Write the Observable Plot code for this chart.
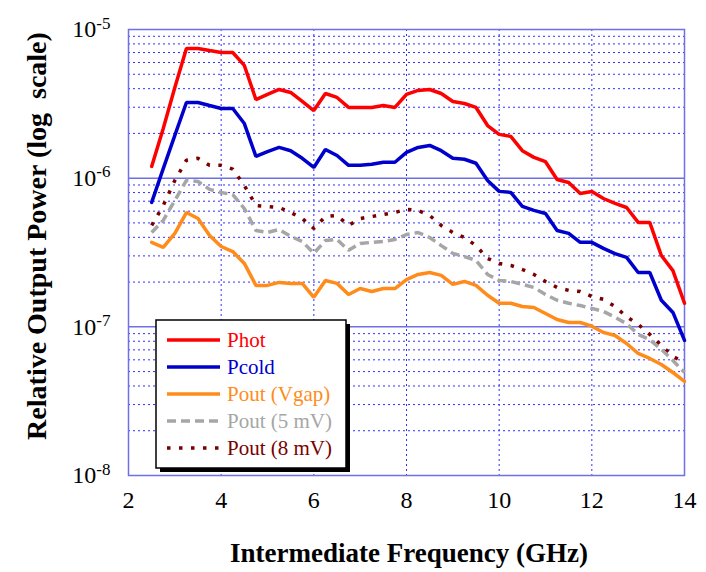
<!DOCTYPE html>
<html><head><meta charset="utf-8">
<script src="https://cdn.jsdelivr.net/npm/d3@7"></script>
<script src="https://cdn.jsdelivr.net/npm/@observablehq/plot@0.6"></script>
<style>
body{margin:0;background:#fff;}
#wrap{position:relative;width:706px;height:572px;font-family:"Liberation Serif",serif;}
#legend{position:absolute;left:150px;top:315px;}
</style></head><body><div id="wrap"></div>
<script>
const freq = [2.5,2.75,3,3.25,3.5,3.75,4,4.25,4.5,4.75,5,5.25,5.5,5.75,6,6.25,6.5,6.75,7,7.25,7.5,7.75,8,8.25,8.5,8.75,9,9.25,9.5,9.75,10,10.25,10.5,10.75,11,11.25,11.5,11.75,12,12.25,12.5,12.75,13,13.25,13.5,13.75,14];
const phot = [1.20e-6,2.16e-6,4.07e-6,7.45e-6,7.45e-6,7.22e-6,7.0e-6,7.0e-6,5.73e-6,3.38e-6,3.66e-6,3.95e-6,3.77e-6,3.28e-6,2.85e-6,3.71e-6,3.49e-6,2.99e-6,2.99e-6,2.99e-6,3.08e-6,2.99e-6,3.66e-6,3.89e-6,3.95e-6,3.71e-6,3.28e-6,3.18e-6,2.99e-6,2.26e-6,1.97e-6,1.91e-6,1.53e-6,1.38e-6,1.29e-6,9.8e-7,9.35e-7,7.89e-7,8.14e-7,7.3e-7,6.76e-7,6.35e-7,5.04e-7,5.04e-7,3.02e-7,2.39e-7,1.44e-7];
const pcold = [6.87e-7,1.16e-6,1.94e-6,3.23e-6,3.23e-6,3.08e-6,2.94e-6,2.94e-6,2.33e-6,1.40e-6,1.51e-6,1.61e-6,1.53e-6,1.36e-6,1.18e-6,1.56e-6,1.42e-6,1.22e-6,1.22e-6,1.24e-6,1.28e-6,1.28e-6,1.49e-6,1.61e-6,1.66e-6,1.53e-6,1.36e-6,1.34e-6,1.26e-6,9.66e-7,8.15e-7,8.02e-7,6.46e-7,6.07e-7,5.79e-7,4.45e-7,4.25e-7,3.70e-7,3.70e-7,3.37e-7,3.11e-7,2.93e-7,2.32e-7,2.32e-7,1.51e-7,1.25e-7,8.1e-8];
const poutVgap = [3.70e-7,3.42e-7,4.25e-7,5.87e-7,5.35e-7,4.12e-7,3.47e-7,3.21e-7,2.67e-7,1.90e-7,1.90e-7,1.99e-7,1.96e-7,1.96e-7,1.58e-7,2.05e-7,1.96e-7,1.65e-7,1.81e-7,1.73e-7,1.81e-7,1.81e-7,2.08e-7,2.25e-7,2.32e-7,2.22e-7,1.93e-7,2.02e-7,1.90e-7,1.63e-7,1.44e-7,1.44e-7,1.37e-7,1.35e-7,1.23e-7,1.12e-7,1.07e-7,1.07e-7,1.01e-7,9.17e-8,8.75e-8,7.73e-8,6.62e-8,6.13e-8,5.58e-8,4.93e-8,4.29e-8];
const pout5mV = [4.31e-7,5.20e-7,7.08e-7,9.66e-7,9.5e-7,8.4e-7,8.0e-7,7.76e-7,6.25e-7,4.45e-7,4.31e-7,4.52e-7,4.06e-7,3.75e-7,3.12e-7,3.81e-7,3.87e-7,3.27e-7,3.64e-7,3.70e-7,3.75e-7,3.87e-7,4.18e-7,4.31e-7,3.99e-7,3.52e-7,3.12e-7,2.97e-7,2.80e-7,2.25e-7,2.05e-7,2.02e-7,1.93e-7,1.84e-7,1.65e-7,1.51e-7,1.44e-7,1.39e-7,1.33e-7,1.27e-7,1.16e-7,1.05e-7,8.9e-8,8.2e-8,7.05e-8,5.94e-8,4.93e-8];
const pout8mV = [4.81e-7,6.55e-7,9.66e-7,1.32e-6,1.36e-6,1.22e-6,1.22e-6,1.15e-6,8.94e-7,6.55e-7,6.45e-7,6.35e-7,5.88e-7,5.35e-7,4.59e-7,5.52e-7,5.61e-7,4.81e-7,5.35e-7,5.52e-7,5.70e-7,5.88e-7,6.17e-7,6.07e-7,5.61e-7,4.81e-7,4.31e-7,3.99e-7,3.52e-7,2.88e-7,2.67e-7,2.59e-7,2.43e-7,2.25e-7,2.02e-7,1.84e-7,1.76e-7,1.73e-7,1.60e-7,1.53e-7,1.37e-7,1.17e-7,1.04e-7,8.9e-8,7.5e-8,6.32e-8,5.77e-8];

const seriesNames = ["Phot","Pcold","Pout (Vgap)","Pout (5 mV)","Pout (8 mV)"];
const seriesValues = [phot, pcold, poutVgap, pout5mV, pout8mV];
const seriesColors = ["#ff0000","#0000cc","#ff8c1a","#a6a6a6","#7a0000"];
const seriesDash = [null, null, null, "9,5", "3.5,8.5"];

const xTicks = [2,4,6,8,10,12,14];
const xGrid = [4,6,8,10,12];
const yTicks = [1e-8,1e-7,1e-6,1e-5];
const decadeLines = [1e-7,1e-6];
const minorY = [];
for (const d of [1e-8,1e-7,1e-6]) for (let k = 2; k <= 9; k++) minorY.push(k*d);

const series = seriesNames.map((name,i) => ({
  name, color: seriesColors[i], dash: seriesDash[i],
  rows: freq.map((f,j) => ({f, v: seriesValues[i][j]}))
}));

const lineMarks = [4,3,2,1,0].map(i => {
  const s = series[i];
  const opts = {x:"f", y:"v", stroke:s.color, strokeWidth:3.5, strokeLinejoin:"miter"};
  if (s.dash) { opts.strokeDasharray = s.dash; opts.strokeLinecap = "butt"; }
  return Plot.line(s.rows, opts);
});

const chart = Plot.plot({
  width:706, height:572,
  marginLeft:128, marginRight:22, marginTop:29, marginBottom:97,
  x:{domain:[2,14]},
  y:{type:"log", domain:[1e-8,1e-5]},
  style:{fontFamily:"Liberation Serif, serif", fontSize:"24px", background:"white", color:"black"},
  marks:[
    Plot.ruleY(minorY, {stroke:"#3030ff", strokeDasharray:"2,3", strokeWidth:1}),
    Plot.ruleX(xGrid, {stroke:"#3030ff", strokeDasharray:"2,3", strokeWidth:1}),
    Plot.ruleY(decadeLines, {stroke:"#6f6fe8", strokeWidth:1.5}),
    Plot.frame({stroke:"#6f6fe8", strokeWidth:1.5}),
    ...lineMarks,
    Plot.axisX({ticks:xTicks, tickSize:0, tickPadding:15, label:null, fontSize:24, tickFormat:d=>String(d)}),
    Plot.axisY({ticks:yTicks, tickSize:0, tickPadding:18, label:null, fontSize:24,
      tickFormat:d=>String(Math.round(Math.log10(d)))})
  ]
});
document.getElementById("wrap").appendChild(chart);

const svg = d3.select(chart);
svg.selectAll('[aria-label="y-axis tick label"] text').each(function(){
  const e = this.textContent;
  const t = d3.select(this);
  t.text("10");
  t.append("tspan").attr("dy","-0.5em").attr("font-size","17px").text(e);
});
svg.append("text").attr("x",409).attr("y",562).attr("text-anchor","middle")
  .attr("font-family","Liberation Serif, serif").attr("font-weight","bold").attr("font-size","27px")
  .text("Intermediate Frequency (GHz)");
svg.append("text").attr("transform","translate(46,236) rotate(-90)").attr("text-anchor","middle")
  .attr("font-family","Liberation Serif, serif").attr("font-weight","bold").attr("font-size","28px")
  .text("Relative Output Power (log  scale)");

// legend overlay
const lg = d3.select("#wrap").append("svg").attr("id","legend").attr("width",210).attr("height",165);
lg.append("rect").attr("x",10).attr("y",9).attr("width",190).attr("height",148).attr("fill","#000");
lg.append("rect").attr("x",6).attr("y",5).attr("width",190).attr("height",148).attr("fill","#fff").attr("stroke","#000").attr("stroke-width",1.5);
const rowY = [25,52,79,106,133];
series.forEach((s,i) => {
  const ln = lg.append("line").attr("x1",17).attr("x2",70).attr("y1",rowY[i]).attr("y2",rowY[i])
    .attr("stroke",s.color).attr("stroke-width",3.5);
  if (s.dash) ln.attr("stroke-dasharray", s.dash);
  lg.append("text").attr("x",77).attr("y",rowY[i]+7).attr("fill",s.color)
    .attr("font-family","Liberation Serif, serif").attr("font-size","21px").text(s.name);
});
</script></body></html>
